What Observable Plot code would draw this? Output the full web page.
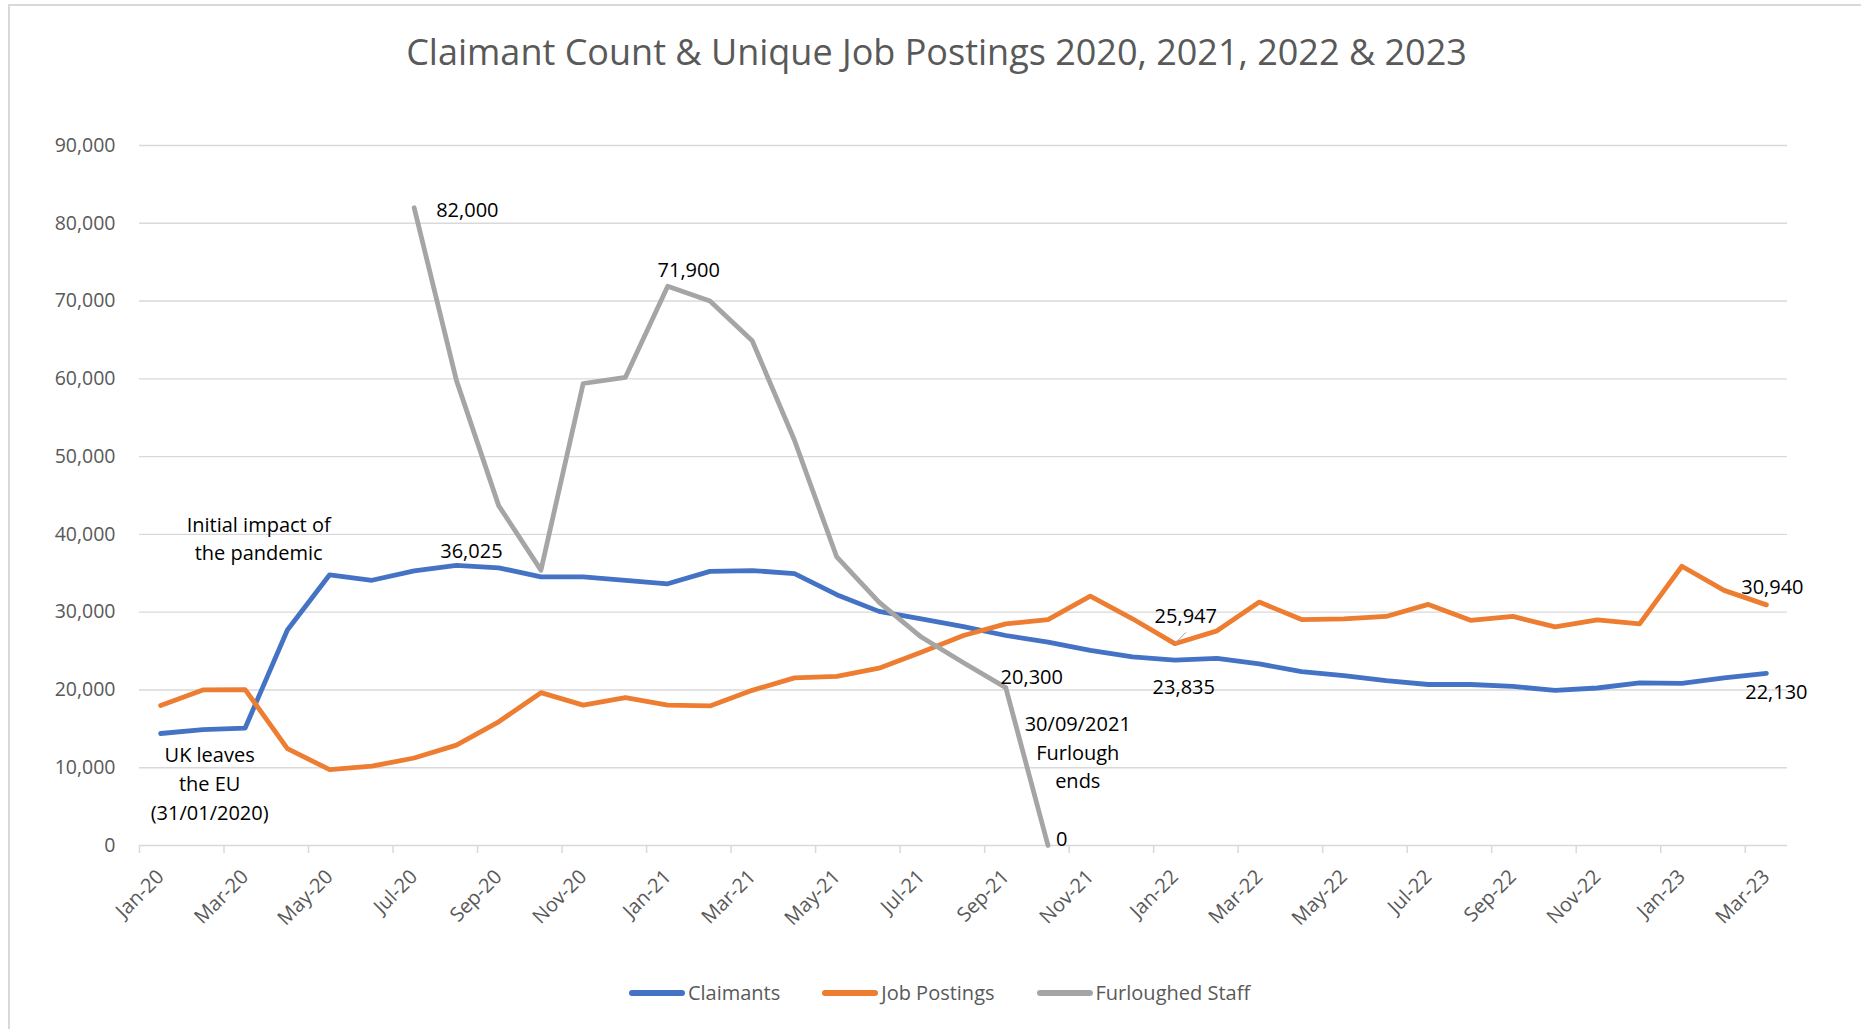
<!DOCTYPE html>
<html>
<head>
<meta charset="utf-8">
<script src="https://cdn.jsdelivr.net/npm/d3@7"></script>
<script src="https://cdn.jsdelivr.net/npm/@observablehq/plot@0.6"></script>
<style>
  body { margin: 0; background: #fff; }
  #wrap { position: relative; width: 1861px; height: 1029px; overflow: hidden; background: #fff; font-family: "Open Sans", sans-serif; }
  #bt { position: absolute; left: 8px; top: 4px; width: 1853px; height: 2px; background: #d9d9d9; }
  #bl { position: absolute; left: 8px; top: 4px; width: 2px; height: 1025px; background: #d9d9d9; }
  #title { position: absolute; top: 29px; left: 0; width: 1861px; box-sizing: border-box; padding-left: 12px; text-align: center; font-size: 36px; line-height: 46px; color: #595959; }
  #chart { position: absolute; left: 0; top: 110px; }
  #legend { position: absolute; top: 978px; left: 0; width: 1861px; box-sizing: border-box; padding-left: 18px; display: flex; justify-content: center; align-items: center; font-size: 20px; color: #595959; line-height: 30px; }
  .item { display: flex; align-items: center; margin: 0 21px; }
  .sw { width: 56px; height: 6px; border-radius: 3px; margin-right: 3px; }
</style>
</head>
<body>
<div id="wrap">
  <div id="bt"></div><div id="bl"></div>
  <div id="title">Claimant Count &amp; Unique Job Postings 2020, 2021, 2022 &amp; 2023</div>
  <div id="chart"></div>
  <div id="legend"></div>
</div>
<script>
// ---- data ----
const months = ["Jan-20","Feb-20","Mar-20","Apr-20","May-20","Jun-20","Jul-20","Aug-20","Sep-20","Oct-20","Nov-20","Dec-20",
  "Jan-21","Feb-21","Mar-21","Apr-21","May-21","Jun-21","Jul-21","Aug-21","Sep-21","Oct-21","Nov-21","Dec-21",
  "Jan-22","Feb-22","Mar-22","Apr-22","May-22","Jun-22","Jul-22","Aug-22","Sep-22","Oct-22","Nov-22","Dec-22",
  "Jan-23","Feb-23","Mar-23"];
const claimants = [14400,14900,15100,27700,34800,34100,35300,36025,35700,34550,34550,34100,
  33650,35250,35350,34950,32250,30100,29150,28150,27000,26150,25100,24250,
  23835,24050,23350,22350,21850,21200,20700,20700,20450,19950,20250,20900,
  20850,21550,22130];
const jobPostings = [18000,20000,20050,12450,9750,10200,11250,12900,15900,19650,18050,19000,
  18050,17950,19950,21550,21750,22800,24850,27000,28500,29050,32050,29150,
  25947,27600,31300,29050,29150,29450,31000,28950,29450,28100,29000,28500,
  35900,32800,30940];
const furloughed = [null,null,null,null,null,null,82000,59800,43700,35400,59400,60200,
  71900,70000,64900,52100,37100,31300,26800,23500,20300,0,null,null,
  null,null,null,null,null,null,null,null,null,null,null,null,
  null,null,null];
const seriesNames = ["Claimants","Job Postings","Furloughed Staff"];
const seriesColors = ["#4472C4","#ED7D31","#A5A5A5"];
const yTicks = [0,10000,20000,30000,40000,50000,60000,70000,80000,90000];

// annotations (text, category index, value)
const annoText = ["82,000","71,900","Initial impact of\nthe pandemic","36,025","UK leaves\nthe EU\n(31/01/2020)",
  "20,300","30/09/2021\nFurlough\nends","0","25,947","23,835","30,940","22,130"];
const annoIndex = [6,12,4,7,0,20,20,21,24,24,38,38];
const annoValue = [82000,71900,34800,36025,14400,20300,20300,0,25947,23835,30940,22130];
// annotation placement (style)
const annoStyle = [
  {dx: 22, dy: 2, a: "start"},
  {dx: 21, dy: -17, a: "middle"},
  {dx: -71, dy: -38, a: "middle", lh: 1.4},
  {dx: 15, dy: -15, a: "middle"},
  {dx: 49, dy: 48, a: "middle", lh: 1.45},
  {dx: 26, dy: -11, a: "middle"},
  {dx: 72, dy: 63, a: "middle", lh: 1.42},
  {dx: 8, dy: -7, a: "start"},
  {dx: 11, dy: -28, a: "middle"},
  {dx: 9, dy: 26, a: "middle"},
  {dx: 6, dy: -19, a: "middle"},
  {dx: 10, dy: 18, a: "middle"}
];

// ---- build ----
const n = months.length;
const idx = d3.range(n);
const table = [];
[claimants, jobPostings, furloughed].forEach((vals, k) =>
  idx.forEach(i => table.push({i, v: vals[i], s: seriesNames[k]})));
const labelIdx = idx.filter(i => i % 2 === 0);
const boundaries = labelIdx.map(i => i - 0.5);

const annoMarks = annoText.map((t, k) => Plot.text([{i: annoIndex[k], v: annoValue[k], t}], {
  x: "i", y: "v", text: "t", dx: annoStyle[k].dx, dy: annoStyle[k].dy,
  textAnchor: annoStyle[k].a, lineHeight: annoStyle[k].lh || 1.2,
  fill: "#000", fontSize: 20
}));

// leader line for 25,947 label
const leader = Plot.link([{i: 24, v: 25947}], {
  x1: "i", y1: "v", x2: d => d.i + 0.26, y2: d => d.v + 1450,
  stroke: "#A5A5A5", strokeWidth: 1
});

const chart = Plot.plot({
  width: 1861,
  height: 825,
  marginLeft: 139,
  marginRight: 74,
  marginTop: 35,
  marginBottom: 90,
  style: {fontFamily: "'Open Sans', sans-serif", fontSize: "19px", background: "transparent", overflow: "visible"},
  x: {type: "linear", domain: [-0.5, n - 0.5]},
  y: {domain: [0, 90000]},
  color: {domain: seriesNames, range: seriesColors},
  marks: [
    Plot.ruleY(yTicks, {stroke: "#d9d9d9", strokeWidth: 1.4}),
    Plot.axisY({ticks: yTicks, tickSize: 0, tickPadding: 24, tickFormat: d3.format(","), fill: "#595959", label: null, fontSize: 19.5}),
    Plot.axisX({ticks: boundaries, tickSize: 8, tickFormat: () => "", stroke: "#d9d9d9", strokeWidth: 1.5, label: null}),
    Plot.axisX({ticks: labelIdx, tickSize: 0, tickPadding: 28, tickRotate: -45, tickFormat: i => months[i], fill: "#595959", label: null, fontSize: 20}),
    Plot.line(table, {x: "i", y: "v", z: "s", stroke: "s", strokeWidth: 4.8, strokeLinejoin: "round", strokeLinecap: "round"}),
    leader,
    ...annoMarks
  ]
});
document.getElementById("chart").appendChild(chart);

// legend
const leg = document.getElementById("legend");
seriesNames.forEach((name, k) => {
  const it = document.createElement("div");
  it.className = "item";
  const sw = document.createElement("div");
  sw.className = "sw";
  sw.style.background = seriesColors[k];
  const tx = document.createElement("span");
  tx.textContent = name;
  it.appendChild(sw); it.appendChild(tx);
  leg.appendChild(it);
});
</script>
</body>
</html>
